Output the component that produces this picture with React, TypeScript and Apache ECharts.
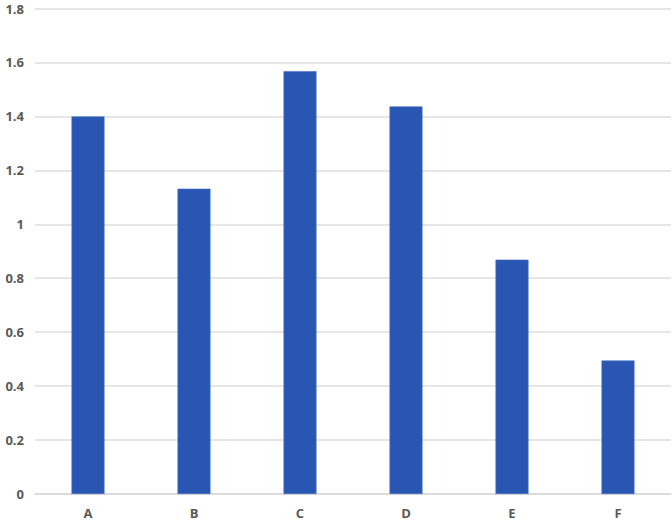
import React, { useEffect, useRef } from "react";
import * as echarts from "echarts";

const categories = ["A", "B", "C", "D", "E", "F"];
const values = [1.4, 1.132, 1.568, 1.437, 0.869, 0.495];
const yMin = 0;
const yMax = 1.8;
const yInterval = 0.2;

export default function App() {
  const ref = useRef<HTMLDivElement>(null);
  useEffect(() => {
    if (!ref.current) return;
    const chart = echarts.init(ref.current, null, { renderer: "svg" });
    chart.setOption({
      animation: false,
      grid: { left: 35, right: 1, top: 8.5, bottom: 28, containLabel: false },
      xAxis: {
        type: "category",
        data: categories,
        axisLine: { show: true, lineStyle: { color: "#d9d9d9", width: 1.5 } },
        axisTick: { show: false },
        axisLabel: {
          color: "#595959",
          fontFamily: "Open Sans",
          fontWeight: "bold",
          fontSize: 13,
          margin: 12,
        },
      },
      yAxis: {
        type: "value",
        min: yMin,
        max: yMax,
        interval: yInterval,
        axisLine: { show: false },
        axisTick: { show: false },
        splitLine: { lineStyle: { color: "#dedede", width: 1.5 } },
        axisLabel: {
          color: "#595959",
          fontFamily: "Open Sans",
          fontWeight: "bold",
          fontSize: 13,
          margin: 11,
          formatter: (v: number) => String(Math.round(v * 10) / 10),
        },
      },
      series: [
        {
          type: "bar",
          data: values,
          barWidth: 33,
          itemStyle: { color: "#2a56b3", borderColor: "#4a72c4", borderWidth: 0.6 },
        },
      ],
    });
    return () => chart.dispose();
  }, []);
  return <div ref={ref} style={{ width: 672, height: 522, position: "absolute", left: 0, top: 0 }} />;
}
